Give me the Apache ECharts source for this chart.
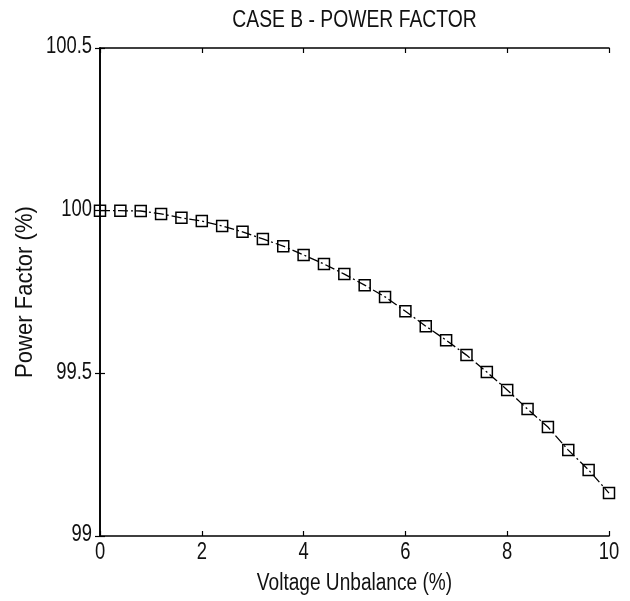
<!DOCTYPE html>
<html>
<head>
<meta charset="utf-8">
<script src="https://cdn.jsdelivr.net/npm/echarts@6/dist/echarts.min.js"></script>
<style>
html,body{margin:0;padding:0;background:#fff;}
#chart{width:630px;height:601px;}
</style>
</head>
<body>
<div id="chart"></div>
<script>
var titleText = 'CASE B - POWER FACTOR';
var xName = 'Voltage Unbalance (%)';
var yName = 'Power Factor (%)';
var voltageUnbalance = [0, 0.4, 0.8, 1.2, 1.6, 2.0, 2.4, 2.8, 3.2, 3.6, 4.0, 4.4, 4.8, 5.2, 5.6, 6.0, 6.4, 6.8, 7.2, 7.6, 8.0, 8.4, 8.8, 9.2, 9.6, 10.0];
var powerFactor = [100.0, 100.0, 99.999, 99.99, 99.978, 99.968, 99.953, 99.935, 99.913, 99.891, 99.864, 99.836, 99.805, 99.771, 99.735, 99.691, 99.645, 99.602, 99.556, 99.504, 99.449, 99.390, 99.335, 99.264, 99.203, 99.132];
var xTickValues = [0, 2, 4, 6, 8, 10];
var xTickLabels = ['0', '2', '4', '6', '8', '10'];
var yTickValues = [99, 99.5, 100, 100.5];
var yTickLabels = ['99', '99.5', '100', '100.5'];

var FONT = '"Liberation Sans", Arial, sans-serif';
var chart = echarts.init(document.getElementById('chart'), null, {renderer: 'canvas'});
var pts = voltageUnbalance.map(function (x, i) { return [x, powerFactor[i]]; });
var xMin = xTickValues[0], xMax = xTickValues[xTickValues.length - 1];
var yMin = yTickValues[0], yMax = yTickValues[yTickValues.length - 1];
var xInt = xTickValues[1] - xTickValues[0], yInt = yTickValues[1] - yTickValues[0];
var lineStyleAxis = {show: true, lineStyle: {color: '#000', width: 1.6}};
var tick = {show: true, inside: true, length: 5, lineStyle: {color: '#000', width: 1.2}};
chart.setOption({
  animation: false,
  backgroundColor: '#fff',
  grid: {left: 100, top: 48, width: 509, height: 488, containLabel: false},
  xAxis: [{
    type: 'value', min: xMin, max: xMax, interval: xInt,
    axisLine: lineStyleAxis, axisTick: tick, axisLabel: {show: false}, splitLine: {show: false}
  }, {
    type: 'value', position: 'top', min: xMin, max: xMax, interval: xInt,
    axisLine: lineStyleAxis, axisTick: tick, axisLabel: {show: false}, splitLine: {show: false}
  }],
  yAxis: [{
    type: 'value', min: yMin, max: yMax, interval: yInt,
    axisLine: lineStyleAxis, axisTick: tick, axisLabel: {show: false}, splitLine: {show: false}
  }, {
    type: 'value', position: 'right', min: yMin, max: yMax, interval: yInt,
    axisLine: lineStyleAxis, axisTick: tick, axisLabel: {show: false}, splitLine: {show: false}
  }],
  series: [{
    type: 'line', data: pts, xAxisIndex: 0, yAxisIndex: 0,
    symbol: 'rect', symbolSize: 11, showSymbol: true,
    lineStyle: {color: '#000', width: 1.3, type: [10, 3, 2, 3]},
    itemStyle: {color: 'rgba(255,255,255,0)', borderColor: '#000', borderWidth: 1.5},
    z: 3
  }]
});

// narrow-looking text: real text elements, horizontally condensed
function txt(text, x, y, size, sx, align, valign, rot) {
  return {
    type: 'text', x: x, y: y, scaleX: sx, scaleY: 1, rotation: rot || 0, z: 10,
    style: {text: text, fontFamily: FONT, fontSize: size, fill: '#111',
            textAlign: align, textVerticalAlign: valign}
  };
}
var g = [];
var x0 = chart.convertToPixel({xAxisIndex: 0}, xMin);
var x1 = chart.convertToPixel({xAxisIndex: 0}, xMax);
var yB = chart.convertToPixel({yAxisIndex: 0}, yMin);
var yT = chart.convertToPixel({yAxisIndex: 0}, yMax);
xTickValues.forEach(function (v, i) {
  g.push(txt(xTickLabels[i], chart.convertToPixel({xAxisIndex: 0}, v), yB + 17, 23, 0.8, 'center', 'middle'));
});
yTickValues.forEach(function (v, i) {
  g.push(txt(yTickLabels[i], x0 - 8, chart.convertToPixel({yAxisIndex: 0}, v) - 1, 23, 0.8, 'right', 'middle'));
});
g.push(txt(titleText, (x0 + x1) / 2, yT - 27, 23, 0.84, 'center', 'middle'));
g.push(txt(xName, (x0 + x1) / 2, yB + 48, 23, 0.83, 'center', 'middle'));
g.push(txt(yName, x0 - 75, (yT + yB) / 2, 24, 0.92, 'center', 'middle', Math.PI / 2));
chart.setOption({graphic: g});
</script>
</body>
</html>
